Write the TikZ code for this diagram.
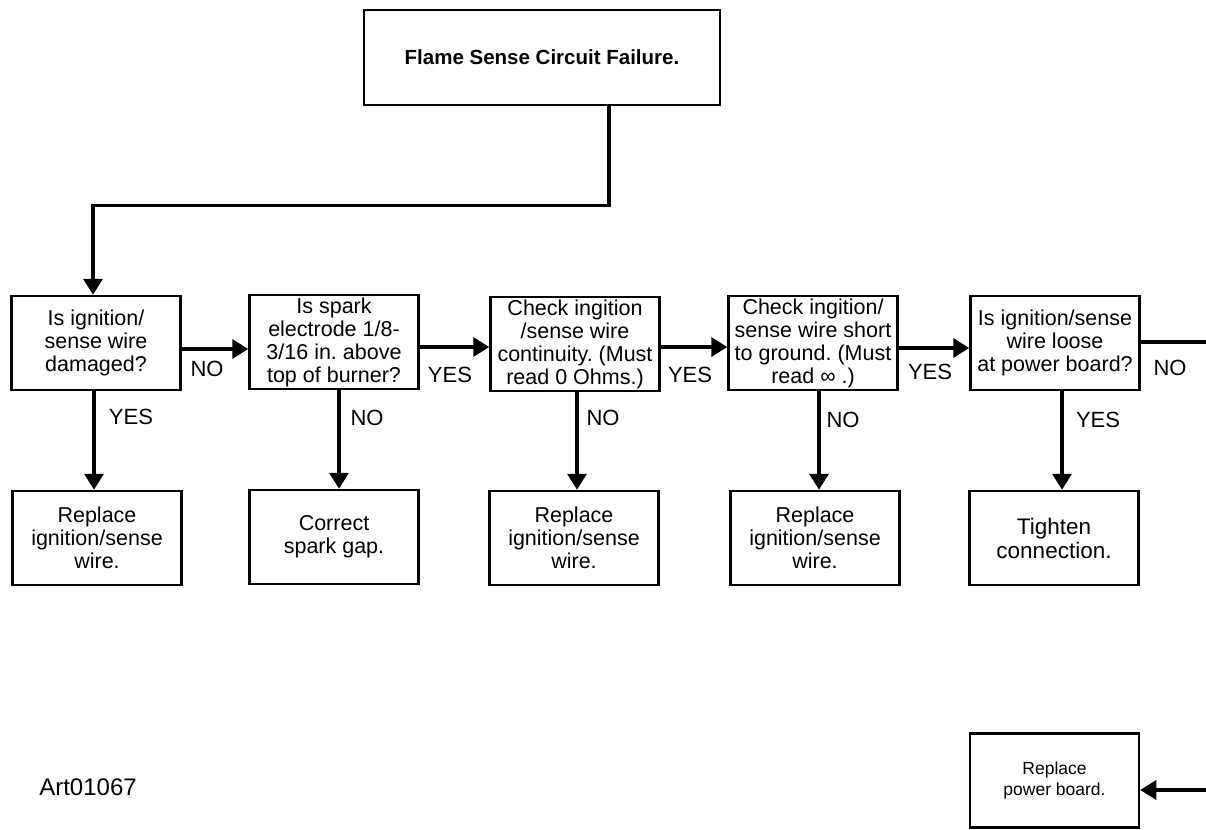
\documentclass[tikz,border=0pt]{standalone}
\usepackage{fontspec}
\setmainfont{Liberation Sans}
\usetikzlibrary{arrows.meta}
\frenchspacing

\tikzset{
    box/.style={draw, line width=2.5pt, minimum width=169pt, minimum height=94pt,
        align=center, inner sep=1pt, font=\fontsize{21.5}{23}\selectfont},
    flow/.style={line width=3.5pt, -{Triangle[length=16pt, width=19pt]}},
    lbl/.style={font=\fontsize{22}{24}\selectfont}
}

\begin{document}
\begin{tikzpicture}[x=1pt, y=-1pt]
                \useasboundingbox (0, 0) rectangle (1206, 829);

                \node[box, minimum width=356pt, minimum height=95pt, font=\fontsize{20.5}{22}\selectfont\bfseries] (title) at (542, 57.5) {Flame Sense Circuit Failure.};

                \node[box] (ign) at (96, 343) {Is ignition/\\sense wire\\damaged?};
                \node[box] (gap) at (334, 342) {Is spark\\electrode 1/8-\\3/16 in. above\\top of burner?};
                \node[box] (cont) at (575, 344) {Check ingition\\/sense wire\\continuity. (Must\\read 0 Ohms.)};
                \node[box] (short) at (813, 343) {Check ingition/\\sense wire short\\to ground. (Must\\read ∞ .)};
                \node[box] (loose) at (1055, 343) {Is ignition/sense\\wire loose\\at power board?};

                \node[box] (rep1) at (97, 538) {Replace\\ignition/sense\\wire.};
                \node[box] (fixgap) at (334, 537) {Correct\\spark gap.};
                \node[box] (rep2) at (574, 538) {Replace\\ignition/sense\\wire.};
                \node[box] (rep3) at (815, 538) {Replace\\ignition/sense\\wire.};
                \node[box, font=\fontsize{22.5}{24}\selectfont] (tight) at (1054, 538) {Tighten\\connection.};
                \node[box, font=\fontsize{17.5}{21}\selectfont] (board) at (1054.5, 780.5) {Replace\\power board.};

                \node[font=\fontsize{24}{26}\selectfont] (art) at (88, 787) {Art01067};

                \draw[flow] ([xshift=67pt]title.south) -- ++(0, 99) -| ([xshift=-3pt]ign.north);

                \draw[flow] ([yshift=-6pt]ign.east) -- ([yshift=-6pt]ign.east -| gap.west);
                \draw[flow] ([yshift=-5pt]gap.east) -- ([yshift=-5pt]gap.east -| cont.west);
                \draw[flow] ([yshift=-3pt]cont.east) -- ([yshift=-3pt]cont.east -| short.west);
                \draw[flow] ([yshift=-5pt]short.east) -- ([yshift=-5pt]short.east -| loose.west);

                \coordinate (outR) at (1206, 342);
                \draw[line width=3.5pt] (outR -| loose.east) -- (outR);

                \coordinate (inR) at (1206, 790);
                \draw[flow] (inR) -- (inR -| board.east);

                \draw[flow] ([xshift=-2pt]ign.south) -- ([xshift=-2pt]ign.south |- rep1.north);
                \draw[flow] ([xshift=5pt]gap.south) -- ([xshift=5pt]gap.south |- fixgap.north);
                \draw[flow] ([xshift=2pt]cont.south) -- ([xshift=2pt]cont.south |- rep2.north);
                \draw[flow] ([xshift=6pt]short.south) -- ([xshift=6pt]short.south |- rep3.north);
                \draw[flow] ([xshift=7pt]loose.south) -- ([xshift=7pt]loose.south |- tight.north);

                \node[lbl] (no1) at (207, 369) {NO};
                \node[lbl] (yes2) at (450, 375) {YES};
                \node[lbl] (yes3) at (690, 375) {YES};
                \node[lbl] (yes4) at (930, 372) {YES};
                \node[lbl] (no5) at (1170, 368) {NO};

                \node[lbl] (yes1) at (131, 417) {YES};
                \node[lbl] (no2) at (367, 418) {NO};
                \node[lbl] (no3) at (603, 418) {NO};
                \node[lbl] (no4) at (843, 420) {NO};
                \node[lbl] (yes5) at (1098, 420) {YES};
            \end{tikzpicture}
\end{document}
